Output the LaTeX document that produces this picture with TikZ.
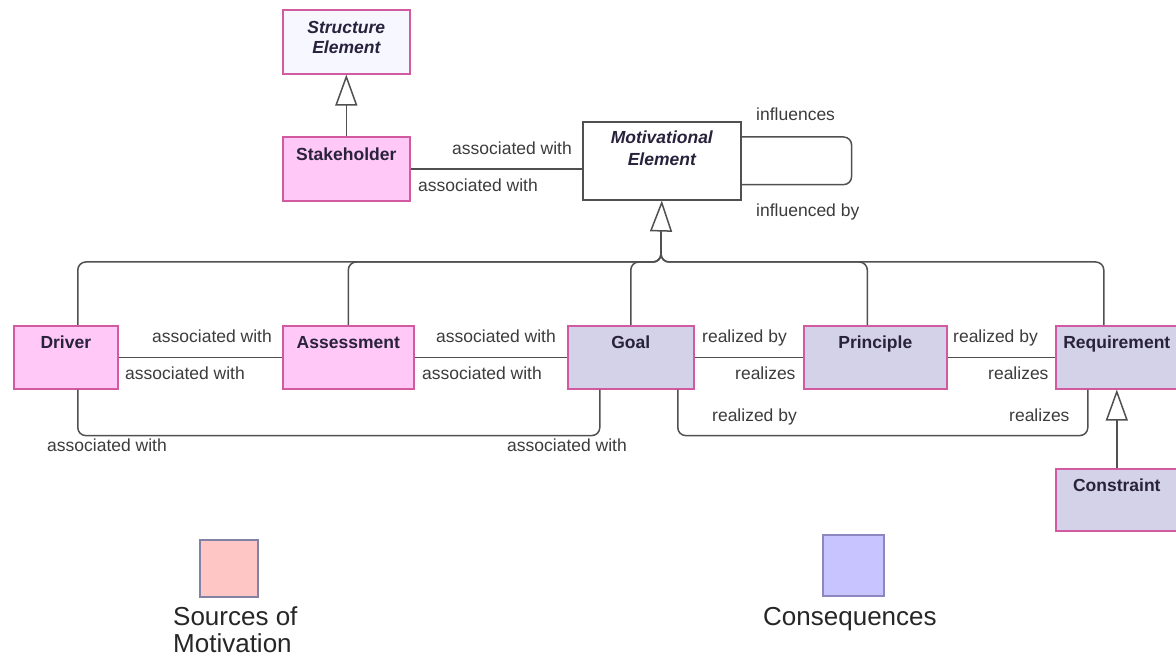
\documentclass[tikz,border=0pt]{standalone}
\usepackage{fontspec}
\setmainfont{Liberation Sans}
\usetikzlibrary{arrows.meta,calc}
\definecolor{pinkfill}{RGB}{255,200,246}
\definecolor{pinkborder}{RGB}{210,90,160}
\definecolor{lavfill}{RGB}{212,210,232}
\definecolor{linegray}{RGB}{80,80,80}
\definecolor{txtgray}{RGB}{60,60,60}
\definecolor{boxtxt}{RGB}{40,34,60}
\definecolor{legpink}{RGB}{255,198,198}
\definecolor{legpinkb}{RGB}{130,130,165}
\definecolor{leglav}{RGB}{200,196,255}
\definecolor{leglavb}{RGB}{140,135,190}
\tikzset{
  ebox/.style={draw=pinkborder, line width=1.6pt, anchor=north west, inner sep=0pt,
    minimum height=63pt, text height=13pt, text depth=30pt,
    font=\fontsize{17.5}{21}\selectfont\bfseries, text=boxtxt},
  srcbox/.style={ebox, fill=pinkfill},
  conbox/.style={ebox, fill=lavfill},
  conn/.style={draw=linegray, line width=1.5pt},
  gen/.style={conn, -{Triangle[open, length=31pt, width=22pt, fill=white]}},
  lbl/.style={font=\fontsize{17.5}{21}\selectfont, text=txtgray, inner sep=0pt,
    text height=12pt, text depth=3pt},
  legsq/.style={line width=2pt, anchor=north west, inner sep=0pt},
  legtxt/.style={font=\fontsize{26}{26}\selectfont, text=black!85, inner sep=0pt, anchor=west, align=left}
}
\begin{document}
\begin{tikzpicture}[x=1pt, y=-1pt]
\useasboundingbox (0,0) rectangle (1176,660);
\fill[white] (0,0) rectangle (1176,660);

% boxes
\node[ebox, fill=white!97!blue, minimum width=127pt, minimum height=64pt,
  text height=33pt, text depth=9pt, align=center,
  font=\fontsize{17.5}{20}\selectfont\bfseries\itshape] (se) at (282,9) {Structure\\Element};
\node[srcbox, minimum width=127pt, minimum height=64pt] (sh) at (282,136) {Stakeholder};
\node[ebox, draw=linegray, fill=white, minimum width=158pt, minimum height=78pt,
  text height=35pt, text depth=25pt, align=center,
  font=\fontsize{17.5}{22}\selectfont\bfseries\itshape] (me) at (582,121) {Motivational\\Element};

\node[srcbox, minimum width=104pt] (dr) at (13,325) {Driver};
\node[srcbox, minimum width=131pt] (as) at (282,325) {Assessment};
\node[conbox, minimum width=126pt] (go) at (567,325) {Goal};
\node[conbox, minimum width=143pt] (pr) at (803,325) {Principle};
\node[conbox, minimum width=122pt] (rq) at (1055,325) {Requirement};
\node[conbox, minimum width=122pt, minimum height=62pt] (cs) at (1055,468) {Constraint};

% generalizations
\draw[gen] (sh.north) -- (se.south);
\draw[gen] (cs.north) -- (rq.south);
\coordinate (J) at (661,262);
\coordinate (Tb) at (661,232);
\draw[gen] (Tb) -- (me.south);
\draw[conn, rounded corners=8pt] ([xshift=12pt]dr.north) |- (J) -- (Tb);
\draw[conn, rounded corners=8pt] (as.north) |- (J) -- (Tb);
\draw[conn, rounded corners=8pt] (go.north) |- (J) -- (Tb);
\draw[conn, rounded corners=8pt] ([xshift=-8pt]pr.north) |- (J) -- (Tb);
\draw[conn, rounded corners=8pt] ([xshift=-13pt]rq.north) |- (J) -- (Tb);

% associations
\draw[conn] (sh.east) -- (sh.east -| me.west);
\draw[conn, rounded corners=8pt] ([yshift=-16pt]me.north east) -- ++(110,0) |- ([yshift=16pt]me.south east);
\draw[conn] (dr.east) -- (as.west);
\draw[conn] (as.east) -- (go.west);
\draw[conn] (go.east) -- (pr.west);
\draw[conn] (pr.east) -- (rq.west);
\draw[conn, rounded corners=8pt] ([xshift=12pt]dr.south) -- ++(0,46) -| ([xshift=-31pt]go.south);
\draw[conn, rounded corners=8pt] ([xshift=47pt]go.south) -- ++(0,46) -| ([xshift=-29pt]rq.south);

% labels
\node[lbl, anchor=west] (l1) at (452,150) {associated with};
\node[lbl, anchor=west] (l2) at (418,187) {associated with};
\node[lbl, anchor=west] (l3) at (756,116) {influences};
\node[lbl, anchor=west] (l4) at (756,212) {influenced by};
\node[lbl, anchor=west] (l5) at (152,338) {associated with};
\node[lbl, anchor=west] (l6) at (125,375) {associated with};
\node[lbl, anchor=west] (l7) at (436,338) {associated with};
\node[lbl, anchor=west] (l8) at (422,375) {associated with};
\node[lbl, anchor=west] (l9) at (47,447) {associated with};
\node[lbl, anchor=west] (l10) at (507,447) {associated with};
\node[lbl, anchor=west] (l11) at (702,338) {realized by};
\node[lbl, anchor=west] (l12) at (735,375) {realizes};
\node[lbl, anchor=west] (l13) at (953,338) {realized by};
\node[lbl, anchor=west] (l14) at (988,375) {realizes};
\node[lbl, anchor=west] (l15) at (712,417) {realized by};
\node[lbl, anchor=west] (l16) at (1009,417) {realizes};

% legend
\node[legsq, draw=legpinkb, fill=legpink, minimum width=58pt, minimum height=57pt] (lp) at (199,539) {};
\node[legsq, draw=leglavb, fill=leglav, minimum width=61pt, minimum height=61pt] (ll) at (822,534) {};
\node[legtxt, anchor=north west, font=\fontsize{26}{27}\selectfont] (lt1) at (173,606) {Sources of\\Motivation};
\node[legtxt] (lt2) at (763,619) {Consequences};
\end{tikzpicture}
\end{document}
